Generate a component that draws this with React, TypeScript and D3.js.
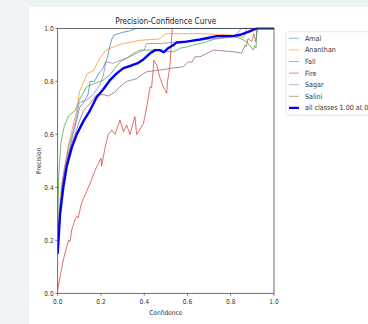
import React from 'react';
import * as d3 from 'd3';

// Per-class precision-confidence curves
const classNames = ['Amal', 'Ananthan', 'Fall', 'Fire', 'Sagar', 'Salini'];
const classColors = ['#1f77b4', '#ff7f0e', '#2ca02c', '#d62728', '#9467bd', '#8c564b'];

const amalConf = [0, 0.01, 0.03, 0.05, 0.07, 0.09, 0.1, 0.12, 0.14, 0.15, 0.17, 0.19, 0.21, 0.22, 0.23, 0.24, 0.25, 0.26, 0.3, 0.33, 0.365, 1.0];
const amalPrec = [0.18, 0.32, 0.45, 0.52, 0.6, 0.66, 0.7, 0.72, 0.75, 0.8, 0.8, 0.83, 0.85, 0.87, 0.89, 0.93, 0.96, 0.975, 0.985, 0.99, 1.0, 1.0];

const ananthanConf = [0, 0.01, 0.03, 0.05, 0.07, 0.09, 0.1, 0.137, 0.165, 0.196, 0.226, 0.29, 0.38, 0.47, 0.5, 0.66, 0.81, 0.86, 0.874, 1.0];
const ananthanPrec = [0.2, 0.35, 0.47, 0.56, 0.63, 0.7, 0.76, 0.83, 0.84, 0.89, 0.92, 0.94, 0.955, 0.96, 0.98, 0.98, 0.975, 0.965, 1.0, 1.0];

const fallConf = [0, 0.005, 0.015, 0.03, 0.05, 0.08, 0.1, 0.134, 0.165, 0.211, 0.242, 0.265, 0.288, 0.319, 0.35, 0.38, 0.473, 0.49, 0.535, 0.566, 0.596, 0.627, 0.658, 0.689, 0.72, 0.75, 0.812, 0.843, 0.874, 0.904, 0.91, 0.917, 0.92, 1.0];
const fallPrec = [0.25, 0.45, 0.57, 0.63, 0.67, 0.69, 0.73, 0.78, 0.79, 0.805, 0.825, 0.85, 0.874, 0.887, 0.906, 0.918, 0.918, 0.912, 0.912, 0.925, 0.93, 0.937, 0.943, 0.95, 0.958, 0.962, 0.969, 0.962, 0.95, 0.918, 0.935, 0.925, 1.0, 1.0];

const fireConf = [0, 0.026, 0.05, 0.057, 0.065, 0.08, 0.088, 0.095, 0.11, 0.126, 0.142, 0.157, 0.173, 0.188, 0.2, 0.203, 0.219, 0.234, 0.25, 0.265, 0.288, 0.304, 0.319, 0.334, 0.357, 0.365, 0.396, 0.411, 0.427, 0.434, 0.445, 0.458, 0.47, 0.488, 0.504, 0.508, 0.519, 0.53];
const firePrec = [0.013, 0.126, 0.2, 0.195, 0.24, 0.277, 0.29, 0.285, 0.34, 0.37, 0.4, 0.43, 0.465, 0.49, 0.51, 0.48, 0.55, 0.6, 0.616, 0.6, 0.654, 0.61, 0.635, 0.6, 0.667, 0.6, 0.64, 0.7, 0.78, 0.775, 0.88, 0.862, 0.82, 0.78, 0.755, 0.8, 0.86, 1.0];

const sagarConf = [0, 0.02, 0.05, 0.08, 0.1, 0.134, 0.165, 0.196, 0.21, 0.223, 0.257, 0.288, 0.334, 0.38, 0.4, 0.41, 0.473, 0.658, 0.812, 0.85, 1.0];
const sagarPrec = [0.18, 0.42, 0.55, 0.64, 0.72, 0.73, 0.75, 0.79, 0.82, 0.874, 0.868, 0.88, 0.893, 0.912, 0.918, 0.943, 0.943, 0.956, 0.969, 1.0, 1.0];

const saliniConf = [0, 0.02, 0.05, 0.08, 0.1, 0.12, 0.15, 0.18, 0.21, 0.234, 0.265, 0.288, 0.319, 0.365, 0.388, 0.411, 0.473, 0.519, 0.58, 0.604, 0.62, 0.635, 0.658, 0.72, 0.812, 0.85, 0.866, 0.872, 0.88, 0.897, 0.907, 0.915, 0.925, 1.0];
const saliniPrec = [0.15, 0.4, 0.53, 0.6, 0.65, 0.69, 0.717, 0.75, 0.75, 0.745, 0.76, 0.78, 0.8, 0.81, 0.825, 0.836, 0.843, 0.849, 0.855, 0.874, 0.872, 0.893, 0.893, 0.918, 0.912, 0.906, 0.937, 0.932, 0.962, 0.95, 0.98, 0.95, 1.0, 1.0];

const allConf = [0, 0.011, 0.026, 0.042, 0.065, 0.088, 0.119, 0.149, 0.18, 0.211, 0.242, 0.273, 0.304, 0.342, 0.373, 0.396, 0.427, 0.45, 0.473, 0.49, 0.51, 0.535, 0.55, 0.596, 0.658, 0.735, 0.812, 0.843, 0.881, 0.92, 1.0];
const allPrec = [0.15, 0.3, 0.4, 0.48, 0.55, 0.6, 0.65, 0.69, 0.74, 0.77, 0.805, 0.83, 0.85, 0.86, 0.87, 0.883, 0.906, 0.918, 0.918, 0.91, 0.925, 0.937, 0.947, 0.95, 0.958, 0.971, 0.971, 0.976, 0.987, 1.0, 1.0];

const allLabel = 'all classes 1.00 at 0.929';
const tickValues = [0, 0.2, 0.4, 0.6, 0.8, 1.0];

const classSeries = [
  { conf: amalConf, prec: amalPrec },
  { conf: ananthanConf, prec: ananthanPrec },
  { conf: fallConf, prec: fallPrec },
  { conf: fireConf, prec: firePrec },
  { conf: sagarConf, prec: sagarPrec },
  { conf: saliniConf, prec: saliniPrec },
];

const W = 368;
const H = 324;
const plot = { left: 57.7, right: 274, top: 28.4, bottom: 293.3 };
const font = '"DejaVu Sans Condensed", "DejaVu Sans", sans-serif';

const App: React.FC = () => {
  const x = d3.scaleLinear().domain([0, 1]).range([plot.left, plot.right]);
  const y = d3.scaleLinear().domain([0, 1]).range([plot.bottom, plot.top]);

  const line = (conf: number[], prec: number[]) =>
    d3.line<number>()
      .x((_, i) => x(conf[i]))
      .y((_, i) => y(prec[i]))(prec) || '';

  const legendItems = [
    ...classNames.map((n, i) => ({ name: n, color: classColors[i], width: 0.9 })),
    { name: allLabel, color: '#0000ff', width: 2.2 },
  ];

  return (
    <svg width={W} height={H} style={{ position: 'absolute', left: 0, top: 0 }} fontFamily={font}>
      <rect width={W} height={H} fill="#eef3f5" />
      <rect x={29} y={7} width={W - 29} height={H - 7} fill="#ffffff" />

      <defs>
        <clipPath id="plot-clip">
          <rect x={plot.left} y={plot.top - 1} width={plot.right - plot.left} height={plot.bottom - plot.top + 1} />
        </clipPath>
      </defs>

      {/* title */}
      <text x={(plot.left + plot.right) / 2} y={23.6} textAnchor="middle" fontSize={8.2} fill="#222">
        Precision-Confidence Curve
      </text>

      {/* curves */}
      <g clipPath="url(#plot-clip)" fill="none">
        {classSeries.map((s, i) => (
          <path key={classNames[i]} d={line(s.conf, s.prec)} stroke={classColors[i]} strokeWidth={0.8} strokeOpacity={0.85} />
        ))}
        <path d={line(allConf, allPrec)} stroke="#0000ff" strokeWidth={2.4} strokeLinejoin="round" />
      </g>

      {/* frame */}
      <rect x={plot.left} y={plot.top} width={plot.right - plot.left} height={plot.bottom - plot.top}
        fill="none" stroke="#333" strokeWidth={0.7} />

      {/* x axis */}
      {tickValues.map(v => (
        <g key={`x${v}`} transform={`translate(${x(v)},${plot.bottom})`}>
          <line y2={2.5} stroke="#333" strokeWidth={0.6} />
          <text y={10.5} textAnchor="middle" fontSize={6.6} fill="#333">{v.toFixed(1)}</text>
        </g>
      ))}
      <text x={(plot.left + plot.right) / 2} y={315} textAnchor="middle" fontSize={6.6} fill="#333">Confidence</text>

      {/* y axis */}
      {tickValues.map(v => (
        <g key={`y${v}`} transform={`translate(${plot.left},${y(v)})`}>
          <line x2={-2.5} stroke="#333" strokeWidth={0.6} />
          <text x={-4} dy="0.35em" textAnchor="end" fontSize={6.6} fill="#333">{v.toFixed(1)}</text>
        </g>
      ))}
      <text transform={`translate(41,${(plot.top + plot.bottom) / 2}) rotate(-90)`} textAnchor="middle" fontSize={6.6} fill="#333">
        Precision
      </text>

      {/* legend */}
      <rect x={286} y={31.7} width={100} height={83.5} rx={2} fill="#fff" stroke="#ddd" strokeWidth={0.7} />
      {legendItems.map((d, i) => (
        <g key={d.name} transform={`translate(289,${38.3 + i * 11.6})`}>
          <line x1={0} x2={10} stroke={d.color} strokeWidth={d.width} strokeOpacity={d.width > 1 ? 1 : 0.6} />
          <text x={16} dy="0.35em" fontSize={7.1} fill="#333">{d.name}</text>
        </g>
      ))}
    </svg>
  );
};

export default App;
